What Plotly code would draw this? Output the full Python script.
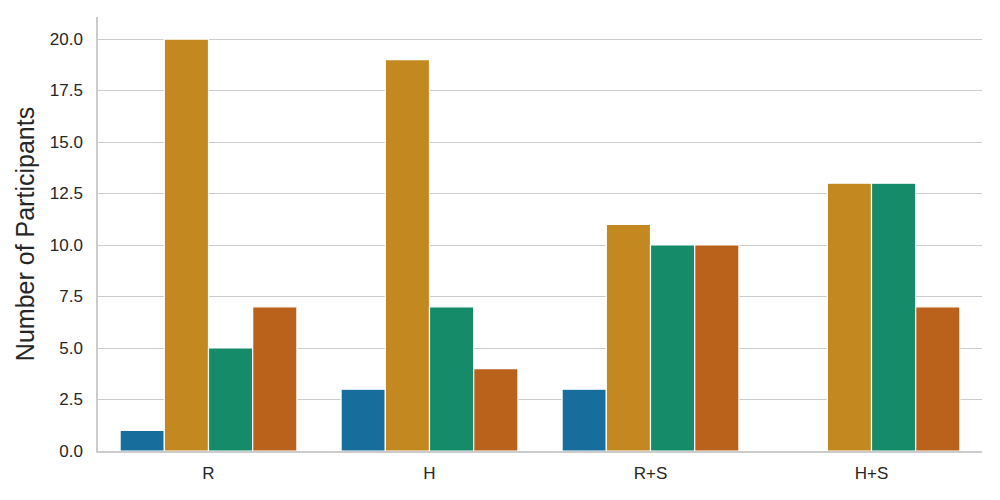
import plotly.graph_objects as go

categories = ["R", "H", "R+S", "H+S"]
series_a = [1, 3, 3, 0]
series_b = [20, 19, 11, 13]
series_c = [5, 7, 10, 13]
series_d = [7, 4, 10, 7]
series_names = ["A", "B", "C", "D"]
colors = ["#176d9c", "#c38820", "#168b6a", "#ba611b"]
y_ticks = [0, 2.5, 5, 7.5, 10, 12.5, 15, 17.5, 20]

fig = go.Figure()
for name, vals, col in zip(series_names, [series_a, series_b, series_c, series_d], colors):
    fig.add_trace(go.Bar(x=categories, y=vals, name=name, marker_color=col,
                         marker_line_color="white", marker_line_width=1.2))

fig.update_layout(
    width=1000, height=500,
    margin=dict(l=90, r=26, t=9, b=57, autoexpand=False),
    barmode="group", bargap=0.2, bargroupgap=0,
    plot_bgcolor="white", paper_bgcolor="white",
    showlegend=False,
    font=dict(family="Liberation Sans, Arial, sans-serif", color="#262626", size=17),
)
fig.update_xaxes(range=[-0.5, 3.5], showgrid=False, showline=True, linecolor="#cccccc",
                 linewidth=1.5, ticks="", tickfont=dict(size=17), ticklabelstandoff=6)
fig.update_yaxes(range=[0, 21.07], tickvals=y_ticks, ticktext=[f"{v:.1f}" for v in y_ticks],
                 showgrid=True, gridcolor="#cccccc", gridwidth=1.2, zeroline=False,
                 showline=True, linecolor="#cccccc", linewidth=1.5, ticks="",
                 tickfont=dict(size=17), ticklabelstandoff=10,
                 title=dict(text="Number of Participants", font=dict(size=25), standoff=8))

fig.write_html("out.html")
